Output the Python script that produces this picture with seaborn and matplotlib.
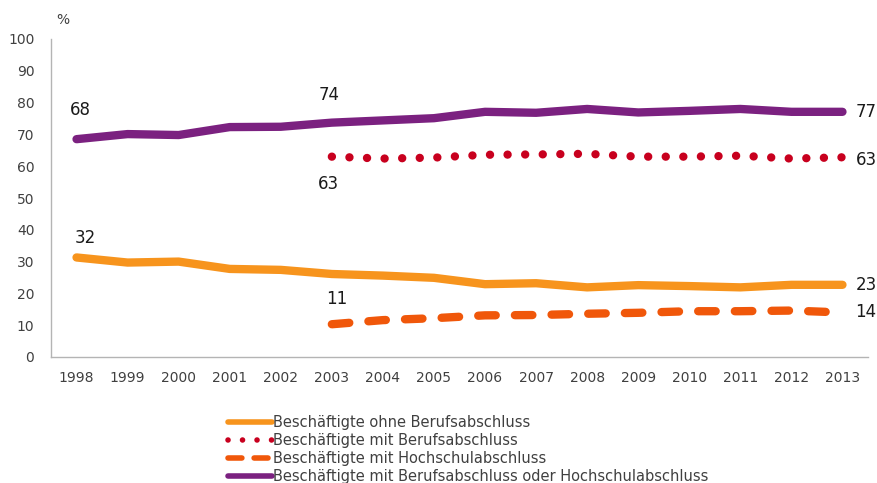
import matplotlib
matplotlib.use("Agg")
import matplotlib.pyplot as plt
import seaborn as sns
import numpy as np
import pandas as pd

years = list(range(1998, 2014))
years_hs = list(range(2003, 2014))

ohne = [31.3, 29.7, 30.0, 27.7, 27.4, 26.1, 25.6, 24.9, 22.9, 23.2, 21.9, 22.6, 22.3, 21.9, 22.7, 22.7]
beruf_oder_hs = [68.5, 70.1, 69.8, 72.3, 72.4, 73.7, 74.4, 75.1, 77.1, 76.8, 78.0, 76.9, 77.4, 78.0, 77.1, 77.1]
beruf = [63.0, 62.4, 62.7, 63.6, 63.7, 63.9, 63.0, 63.0, 63.3, 62.4, 62.8]
hochschule = [10.3, 11.6, 12.2, 13.1, 13.2, 13.6, 13.9, 14.4, 14.4, 14.6, 14.0]

names = ["Beschäftigte ohne Berufsabschluss",
         "Beschäftigte mit Berufsabschluss",
         "Beschäftigte mit Hochschulabschluss",
         "Beschäftigte mit Berufsabschluss oder Hochschulabschluss"]
colors = ["#F7941D", "#C8001E", "#F0570A", "#7B2180"]

sns.set_style("white")
plt.rcParams['font.family'] = ['DejaVu Sans']

fig = plt.figure(figsize=(8.78, 4.83), dpi=100)
ax = fig.add_axes([51/878, 1-357/483, (868-51)/878, (357-39)/483])

lw = 6
series = [(years, ohne), (years_hs, beruf), (years_hs, hochschule), (years, beruf_oder_hs)]
handles = []
for (xs, ys), name, col in zip(series, names, colors):
    sns.lineplot(x=xs, y=ys, ax=ax, color=col, linewidth=lw, legend=False)
    ln = ax.lines[-1]
    ln.set_solid_capstyle("round")
    ln.set_dash_capstyle("round")
    handles.append(ln)

handles[1].set_linestyle((0, (0.01, 2.1)))
handles[2].set_linestyle((0, (2.1, 2.3)))

ax.set_xlim(1997.5, 2013.5)
ax.set_ylim(0, 100)
ax.set_xticks(years)
ax.set_yticks(range(0, 101, 10))
ax.tick_params(axis='both', length=0, labelsize=10, colors="#404040", pad=10)
ax.tick_params(axis='y', pad=12)
for s in ["top", "right"]:
    ax.spines[s].set_visible(False)
for s in ["left", "bottom"]:
    ax.spines[s].set_color("#B4B4B4")
    ax.spines[s].set_linewidth(1.0)

fig.text(63/878, 1-20/483, "%", fontsize=10, color="#404040", ha="center", va="center")

lab = dict(fontsize=12, color="#1a1a1a", ha="center", va="center")
ax.annotate("68", (1998, beruf_oder_hs[0]), xytext=(4, 29), textcoords="offset pixels", **lab)
ax.annotate("74", (2003, beruf_oder_hs[5]), xytext=(-3, 28), textcoords="offset pixels", **lab)
ax.annotate("63", (2003, beruf[0]), xytext=(-3, -27), textcoords="offset pixels", **lab)
ax.annotate("32", (1998, ohne[0]), xytext=(9, 19), textcoords="offset pixels", **lab)
ax.annotate("11", (2003, hochschule[0]), xytext=(5, 25), textcoords="offset pixels", **lab)
rl = dict(fontsize=12, color="#1a1a1a", ha="left", va="center")
ax.annotate("77", (2013, beruf_oder_hs[-1]), xytext=(13, 0), textcoords="offset pixels", **rl)
ax.annotate("63", (2013, beruf[-1]), xytext=(13, -3), textcoords="offset pixels", **rl)
ax.annotate("23", (2013, ohne[-1]), xytext=(13, 0), textcoords="offset pixels", **rl)
ax.annotate("14", (2013, hochschule[-1]), xytext=(13, 0), textcoords="offset pixels", **rl)

from matplotlib.lines import Line2D
leg_handles = [
    Line2D([], [], color=colors[0], lw=4, solid_capstyle="round"),
    Line2D([], [], color=colors[1], lw=4, linestyle=(0, (0.01, 2.6)), dash_capstyle="round"),
    Line2D([], [], color=colors[2], lw=4, linestyle=(0, (2.5, 2.2)), dash_capstyle="round"),
    Line2D([], [], color=colors[3], lw=4, solid_capstyle="round"),
]
leg = fig.legend(leg_handles, names, loc="upper left", bbox_to_anchor=(228/878, 1-415/483),
                 frameon=False, fontsize=10.5, handlelength=3.0, handletextpad=0.1,
                 labelspacing=0.2, borderpad=0, borderaxespad=0)
for t in leg.get_texts():
    t.set_color("#404040")

fig.savefig("out.png", dpi=100)
